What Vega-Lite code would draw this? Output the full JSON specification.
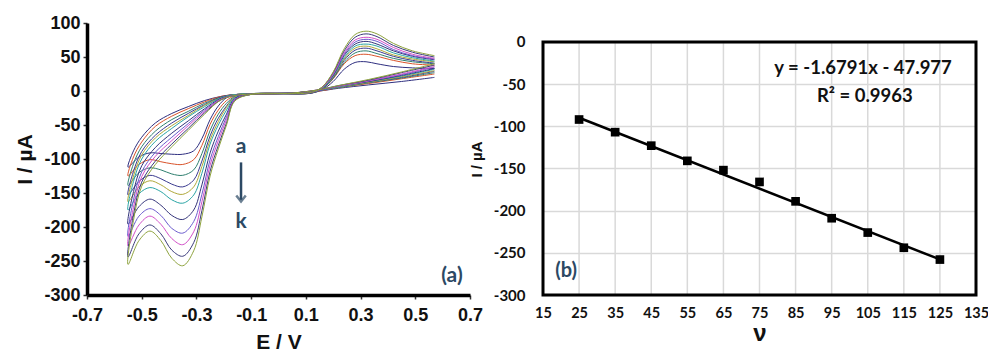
{
"$schema": "https://vega.github.io/schema/vega-lite/v6.json",
"padding": {"left": 14, "top": 14, "right": 0, "bottom": 0},
"config": {"font": "Liberation Sans", "concat": {"spacing": 73}, "axis": {"labelOverlap": false, "labelSeparation": 0, "labelBound": false}},
"bounds": "flush",
"hconcat": [
{
"width": 383, "height": 272,
"view": {"stroke": null},
"layer": [
{
"data": {"values": [
{"c":"a","o":1,"E":0.57,"I":20},{"c":"a","o":2,"E":0.45,"I":14},{"c":"a","o":3,"E":0.33,"I":9},{"c":"a","o":4,"E":0.22,"I":4},{"c":"a","o":5,"E":0.15,"I":0},{"c":"a","o":6,"E":0.05,"I":-3},{"c":"a","o":7,"E":-0.1,"I":-4},
{"c":"a","o":8,"E":-0.16,"I":-6},{"c":"a","o":9,"E":-0.19,"I":-10},{"c":"a","o":10,"E":-0.22,"I":-22},{"c":"a","o":11,"E":-0.25,"I":-42},{"c":"a","o":12,"E":-0.28,"I":-70},{"c":"a","o":13,"E":-0.31,"I":-88},{"c":"a","o":14,"E":-0.35,"I":-93},{"c":"a","o":15,"E":-0.39,"I":-93},{"c":"a","o":16,"E":-0.43,"I":-92},{"c":"a","o":17,"E":-0.47,"I":-91},{"c":"a","o":18,"E":-0.51,"I":-97},{"c":"a","o":19,"E":-0.55,"I":-112},
{"c":"a","o":20,"E":-0.53,"I":-88},{"c":"a","o":21,"E":-0.5,"I":-68},{"c":"a","o":22,"E":-0.45,"I":-47},{"c":"a","o":23,"E":-0.39,"I":-33},{"c":"a","o":24,"E":-0.33,"I":-23},{"c":"a","o":25,"E":-0.27,"I":-14},{"c":"a","o":26,"E":-0.21,"I":-8},{"c":"a","o":27,"E":-0.15,"I":-5},{"c":"a","o":28,"E":0,"I":-4},
{"c":"a","o":29,"E":0.12,"I":-3},{"c":"a","o":30,"E":0.16,"I":2},{"c":"a","o":31,"E":0.2,"I":14},{"c":"a","o":32,"E":0.24,"I":32},{"c":"a","o":33,"E":0.28,"I":42},{"c":"a","o":34,"E":0.32,"I":43},{"c":"a","o":35,"E":0.36,"I":40},{"c":"a","o":36,"E":0.42,"I":36},{"c":"a","o":37,"E":0.49,"I":34},{"c":"a","o":38,"E":0.57,"I":33},

{"c":"b","o":1,"E":0.57,"I":25},{"c":"b","o":2,"E":0.45,"I":18},{"c":"b","o":3,"E":0.33,"I":11},{"c":"b","o":4,"E":0.22,"I":5},{"c":"b","o":5,"E":0.15,"I":0},{"c":"b","o":6,"E":0.05,"I":-3},{"c":"b","o":7,"E":-0.1,"I":-4},
{"c":"b","o":8,"E":-0.16,"I":-7},{"c":"b","o":9,"E":-0.19,"I":-14},{"c":"b","o":10,"E":-0.22,"I":-28},{"c":"b","o":11,"E":-0.25,"I":-49},{"c":"b","o":12,"E":-0.28,"I":-80},{"c":"b","o":13,"E":-0.31,"I":-101},{"c":"b","o":14,"E":-0.35,"I":-108},{"c":"b","o":15,"E":-0.39,"I":-107},{"c":"b","o":16,"E":-0.43,"I":-104},{"c":"b","o":17,"E":-0.47,"I":-101},{"c":"b","o":18,"E":-0.51,"I":-108},{"c":"b","o":19,"E":-0.55,"I":-125},
{"c":"b","o":20,"E":-0.53,"I":-97},{"c":"b","o":21,"E":-0.5,"I":-75},{"c":"b","o":22,"E":-0.45,"I":-52},{"c":"b","o":23,"E":-0.39,"I":-37},{"c":"b","o":24,"E":-0.33,"I":-26},{"c":"b","o":25,"E":-0.27,"I":-16},{"c":"b","o":26,"E":-0.21,"I":-8},{"c":"b","o":27,"E":-0.15,"I":-5},{"c":"b","o":28,"E":0,"I":-4},
{"c":"b","o":29,"E":0.12,"I":-3},{"c":"b","o":30,"E":0.16,"I":3},{"c":"b","o":31,"E":0.2,"I":18},{"c":"b","o":32,"E":0.24,"I":40},{"c":"b","o":33,"E":0.28,"I":52},{"c":"b","o":34,"E":0.32,"I":54},{"c":"b","o":35,"E":0.36,"I":51},{"c":"b","o":36,"E":0.42,"I":45},{"c":"b","o":37,"E":0.49,"I":40},{"c":"b","o":38,"E":0.57,"I":38},

{"c":"c","o":1,"E":0.57,"I":27},{"c":"c","o":2,"E":0.45,"I":19},{"c":"c","o":3,"E":0.33,"I":12},{"c":"c","o":4,"E":0.22,"I":5},{"c":"c","o":5,"E":0.15,"I":1},{"c":"c","o":6,"E":0.05,"I":-3},{"c":"c","o":7,"E":-0.1,"I":-4},
{"c":"c","o":8,"E":-0.16,"I":-8},{"c":"c","o":9,"E":-0.19,"I":-18},{"c":"c","o":10,"E":-0.22,"I":-34},{"c":"c","o":11,"E":-0.25,"I":-58},{"c":"c","o":12,"E":-0.28,"I":-92},{"c":"c","o":13,"E":-0.31,"I":-116},{"c":"c","o":14,"E":-0.35,"I":-124},{"c":"c","o":15,"E":-0.39,"I":-122},{"c":"c","o":16,"E":-0.43,"I":-116},{"c":"c","o":17,"E":-0.47,"I":-113},{"c":"c","o":18,"E":-0.51,"I":-120},{"c":"c","o":19,"E":-0.55,"I":-139},
{"c":"c","o":20,"E":-0.53,"I":-107},{"c":"c","o":21,"E":-0.5,"I":-82},{"c":"c","o":22,"E":-0.45,"I":-59},{"c":"c","o":23,"E":-0.39,"I":-42},{"c":"c","o":24,"E":-0.33,"I":-30},{"c":"c","o":25,"E":-0.27,"I":-18},{"c":"c","o":26,"E":-0.21,"I":-9},{"c":"c","o":27,"E":-0.15,"I":-5},{"c":"c","o":28,"E":0,"I":-4},
{"c":"c","o":29,"E":0.12,"I":-3},{"c":"c","o":30,"E":0.16,"I":3},{"c":"c","o":31,"E":0.2,"I":19},{"c":"c","o":32,"E":0.24,"I":42},{"c":"c","o":33,"E":0.28,"I":56},{"c":"c","o":34,"E":0.32,"I":59},{"c":"c","o":35,"E":0.36,"I":55},{"c":"c","o":36,"E":0.42,"I":48},{"c":"c","o":37,"E":0.49,"I":43},{"c":"c","o":38,"E":0.57,"I":40},

{"c":"d","o":1,"E":0.57,"I":29},{"c":"d","o":2,"E":0.45,"I":20},{"c":"d","o":3,"E":0.33,"I":13},{"c":"d","o":4,"E":0.22,"I":6},{"c":"d","o":5,"E":0.15,"I":1},{"c":"d","o":6,"E":0.05,"I":-3},{"c":"d","o":7,"E":-0.1,"I":-4},
{"c":"d","o":8,"E":-0.16,"I":-9},{"c":"d","o":9,"E":-0.19,"I":-22},{"c":"d","o":10,"E":-0.22,"I":-40},{"c":"d","o":11,"E":-0.25,"I":-66},{"c":"d","o":12,"E":-0.28,"I":-103},{"c":"d","o":13,"E":-0.31,"I":-131},{"c":"d","o":14,"E":-0.35,"I":-141},{"c":"d","o":15,"E":-0.39,"I":-137},{"c":"d","o":16,"E":-0.43,"I":-129},{"c":"d","o":17,"E":-0.47,"I":-124},{"c":"d","o":18,"E":-0.51,"I":-133},{"c":"d","o":19,"E":-0.55,"I":-153},
{"c":"d","o":20,"E":-0.53,"I":-118},{"c":"d","o":21,"E":-0.5,"I":-89},{"c":"d","o":22,"E":-0.45,"I":-65},{"c":"d","o":23,"E":-0.39,"I":-47},{"c":"d","o":24,"E":-0.33,"I":-33},{"c":"d","o":25,"E":-0.27,"I":-20},{"c":"d","o":26,"E":-0.21,"I":-9},{"c":"d","o":27,"E":-0.15,"I":-5},{"c":"d","o":28,"E":0,"I":-4},
{"c":"d","o":29,"E":0.12,"I":-3},{"c":"d","o":30,"E":0.16,"I":4},{"c":"d","o":31,"E":0.2,"I":20},{"c":"d","o":32,"E":0.24,"I":45},{"c":"d","o":33,"E":0.28,"I":60},{"c":"d","o":34,"E":0.32,"I":63},{"c":"d","o":35,"E":0.36,"I":59},{"c":"d","o":36,"E":0.42,"I":51},{"c":"d","o":37,"E":0.49,"I":45},{"c":"d","o":38,"E":0.57,"I":41},

{"c":"e","o":1,"E":0.57,"I":30},{"c":"e","o":2,"E":0.45,"I":21},{"c":"e","o":3,"E":0.33,"I":13},{"c":"e","o":4,"E":0.22,"I":6},{"c":"e","o":5,"E":0.15,"I":1},{"c":"e","o":6,"E":0.05,"I":-3},{"c":"e","o":7,"E":-0.1,"I":-5},
{"c":"e","o":8,"E":-0.16,"I":-9},{"c":"e","o":9,"E":-0.19,"I":-24},{"c":"e","o":10,"E":-0.22,"I":-45},{"c":"e","o":11,"E":-0.25,"I":-72},{"c":"e","o":12,"E":-0.28,"I":-111},{"c":"e","o":13,"E":-0.31,"I":-141},{"c":"e","o":14,"E":-0.35,"I":-152},{"c":"e","o":15,"E":-0.39,"I":-148},{"c":"e","o":16,"E":-0.43,"I":-138},{"c":"e","o":17,"E":-0.47,"I":-132},{"c":"e","o":18,"E":-0.51,"I":-141},{"c":"e","o":19,"E":-0.55,"I":-163},
{"c":"e","o":20,"E":-0.53,"I":-125},{"c":"e","o":21,"E":-0.5,"I":-94},{"c":"e","o":22,"E":-0.45,"I":-69},{"c":"e","o":23,"E":-0.39,"I":-51},{"c":"e","o":24,"E":-0.33,"I":-36},{"c":"e","o":25,"E":-0.27,"I":-21},{"c":"e","o":26,"E":-0.21,"I":-10},{"c":"e","o":27,"E":-0.15,"I":-5},{"c":"e","o":28,"E":0,"I":-4},
{"c":"e","o":29,"E":0.12,"I":-2},{"c":"e","o":30,"E":0.16,"I":4},{"c":"e","o":31,"E":0.2,"I":21},{"c":"e","o":32,"E":0.24,"I":47},{"c":"e","o":33,"E":0.28,"I":63},{"c":"e","o":34,"E":0.32,"I":66},{"c":"e","o":35,"E":0.36,"I":62},{"c":"e","o":36,"E":0.42,"I":53},{"c":"e","o":37,"E":0.49,"I":47},{"c":"e","o":38,"E":0.57,"I":43},

{"c":"f","o":1,"E":0.57,"I":32},{"c":"f","o":2,"E":0.45,"I":22},{"c":"f","o":3,"E":0.33,"I":14},{"c":"f","o":4,"E":0.22,"I":6},{"c":"f","o":5,"E":0.15,"I":1},{"c":"f","o":6,"E":0.05,"I":-3},{"c":"f","o":7,"E":-0.1,"I":-5},
{"c":"f","o":8,"E":-0.16,"I":-10},{"c":"f","o":9,"E":-0.19,"I":-28},{"c":"f","o":10,"E":-0.22,"I":-50},{"c":"f","o":11,"E":-0.25,"I":-78},{"c":"f","o":12,"E":-0.28,"I":-121},{"c":"f","o":13,"E":-0.31,"I":-153},{"c":"f","o":14,"E":-0.35,"I":-165},{"c":"f","o":15,"E":-0.39,"I":-160},{"c":"f","o":16,"E":-0.43,"I":-148},{"c":"f","o":17,"E":-0.47,"I":-142},{"c":"f","o":18,"E":-0.51,"I":-151},{"c":"f","o":19,"E":-0.55,"I":-175},
{"c":"f","o":20,"E":-0.53,"I":-133},{"c":"f","o":21,"E":-0.5,"I":-100},{"c":"f","o":22,"E":-0.45,"I":-74},{"c":"f","o":23,"E":-0.39,"I":-55},{"c":"f","o":24,"E":-0.33,"I":-38},{"c":"f","o":25,"E":-0.27,"I":-23},{"c":"f","o":26,"E":-0.21,"I":-10},{"c":"f","o":27,"E":-0.15,"I":-5},{"c":"f","o":28,"E":0,"I":-4},
{"c":"f","o":29,"E":0.12,"I":-2},{"c":"f","o":30,"E":0.16,"I":4},{"c":"f","o":31,"E":0.2,"I":22},{"c":"f","o":32,"E":0.24,"I":49},{"c":"f","o":33,"E":0.28,"I":66},{"c":"f","o":34,"E":0.32,"I":69},{"c":"f","o":35,"E":0.36,"I":66},{"c":"f","o":36,"E":0.42,"I":56},{"c":"f","o":37,"E":0.49,"I":49},{"c":"f","o":38,"E":0.57,"I":44},

{"c":"g","o":1,"E":0.57,"I":33},{"c":"g","o":2,"E":0.45,"I":23},{"c":"g","o":3,"E":0.33,"I":14},{"c":"g","o":4,"E":0.22,"I":7},{"c":"g","o":5,"E":0.15,"I":1},{"c":"g","o":6,"E":0.05,"I":-3},{"c":"g","o":7,"E":-0.1,"I":-5},
{"c":"g","o":8,"E":-0.16,"I":-11},{"c":"g","o":9,"E":-0.19,"I":-34},{"c":"g","o":10,"E":-0.22,"I":-59},{"c":"g","o":11,"E":-0.25,"I":-91},{"c":"g","o":12,"E":-0.28,"I":-138},{"c":"g","o":13,"E":-0.31,"I":-175},{"c":"g","o":14,"E":-0.35,"I":-189},{"c":"g","o":15,"E":-0.39,"I":-183},{"c":"g","o":16,"E":-0.43,"I":-168},{"c":"g","o":17,"E":-0.47,"I":-159},{"c":"g","o":18,"E":-0.51,"I":-170},{"c":"g","o":19,"E":-0.55,"I":-196},
{"c":"g","o":20,"E":-0.53,"I":-148},{"c":"g","o":21,"E":-0.5,"I":-110},{"c":"g","o":22,"E":-0.45,"I":-83},{"c":"g","o":23,"E":-0.39,"I":-62},{"c":"g","o":24,"E":-0.33,"I":-44},{"c":"g","o":25,"E":-0.27,"I":-26},{"c":"g","o":26,"E":-0.21,"I":-11},{"c":"g","o":27,"E":-0.15,"I":-6},{"c":"g","o":28,"E":0,"I":-4},
{"c":"g","o":29,"E":0.12,"I":-2},{"c":"g","o":30,"E":0.16,"I":5},{"c":"g","o":31,"E":0.2,"I":23},{"c":"g","o":32,"E":0.24,"I":52},{"c":"g","o":33,"E":0.28,"I":69},{"c":"g","o":34,"E":0.32,"I":73},{"c":"g","o":35,"E":0.36,"I":69},{"c":"g","o":36,"E":0.42,"I":59},{"c":"g","o":37,"E":0.49,"I":51},{"c":"g","o":38,"E":0.57,"I":46},

{"c":"h","o":1,"E":0.57,"I":35},{"c":"h","o":2,"E":0.45,"I":24},{"c":"h","o":3,"E":0.33,"I":15},{"c":"h","o":4,"E":0.22,"I":7},{"c":"h","o":5,"E":0.15,"I":1},{"c":"h","o":6,"E":0.05,"I":-3},{"c":"h","o":7,"E":-0.1,"I":-5},
{"c":"h","o":8,"E":-0.16,"I":-12},{"c":"h","o":9,"E":-0.19,"I":-38},{"c":"h","o":10,"E":-0.22,"I":-67},{"c":"h","o":11,"E":-0.25,"I":-101},{"c":"h","o":12,"E":-0.28,"I":-152},{"c":"h","o":13,"E":-0.31,"I":-192},{"c":"h","o":14,"E":-0.35,"I":-209},{"c":"h","o":15,"E":-0.39,"I":-202},{"c":"h","o":16,"E":-0.43,"I":-183},{"c":"h","o":17,"E":-0.47,"I":-173},{"c":"h","o":18,"E":-0.51,"I":-184},{"c":"h","o":19,"E":-0.55,"I":-214},
{"c":"h","o":20,"E":-0.53,"I":-160},{"c":"h","o":21,"E":-0.5,"I":-119},{"c":"h","o":22,"E":-0.45,"I":-90},{"c":"h","o":23,"E":-0.39,"I":-68},{"c":"h","o":24,"E":-0.33,"I":-48},{"c":"h","o":25,"E":-0.27,"I":-28},{"c":"h","o":26,"E":-0.21,"I":-12},{"c":"h","o":27,"E":-0.15,"I":-6},{"c":"h","o":28,"E":0,"I":-4},
{"c":"h","o":29,"E":0.12,"I":-2},{"c":"h","o":30,"E":0.16,"I":5},{"c":"h","o":31,"E":0.2,"I":24},{"c":"h","o":32,"E":0.24,"I":54},{"c":"h","o":33,"E":0.28,"I":72},{"c":"h","o":34,"E":0.32,"I":76},{"c":"h","o":35,"E":0.36,"I":73},{"c":"h","o":36,"E":0.42,"I":61},{"c":"h","o":37,"E":0.49,"I":52},{"c":"h","o":38,"E":0.57,"I":47},

{"c":"i","o":1,"E":0.57,"I":36},{"c":"i","o":2,"E":0.45,"I":25},{"c":"i","o":3,"E":0.33,"I":15},{"c":"i","o":4,"E":0.22,"I":7},{"c":"i","o":5,"E":0.15,"I":2},{"c":"i","o":6,"E":0.05,"I":-3},{"c":"i","o":7,"E":-0.1,"I":-5},
{"c":"i","o":8,"E":-0.16,"I":-13},{"c":"i","o":9,"E":-0.19,"I":-42},{"c":"i","o":10,"E":-0.22,"I":-73},{"c":"i","o":11,"E":-0.25,"I":-109},{"c":"i","o":12,"E":-0.28,"I":-163},{"c":"i","o":13,"E":-0.31,"I":-207},{"c":"i","o":14,"E":-0.35,"I":-226},{"c":"i","o":15,"E":-0.39,"I":-217},{"c":"i","o":16,"E":-0.43,"I":-196},{"c":"i","o":17,"E":-0.47,"I":-184},{"c":"i","o":18,"E":-0.51,"I":-197},{"c":"i","o":19,"E":-0.55,"I":-228},
{"c":"i","o":20,"E":-0.53,"I":-171},{"c":"i","o":21,"E":-0.5,"I":-126},{"c":"i","o":22,"E":-0.45,"I":-96},{"c":"i","o":23,"E":-0.39,"I":-73},{"c":"i","o":24,"E":-0.33,"I":-51},{"c":"i","o":25,"E":-0.27,"I":-30},{"c":"i","o":26,"E":-0.21,"I":-12},{"c":"i","o":27,"E":-0.15,"I":-6},{"c":"i","o":28,"E":0,"I":-4},
{"c":"i","o":29,"E":0.12,"I":-2},{"c":"i","o":30,"E":0.16,"I":5},{"c":"i","o":31,"E":0.2,"I":25},{"c":"i","o":32,"E":0.24,"I":56},{"c":"i","o":33,"E":0.28,"I":75},{"c":"i","o":34,"E":0.32,"I":79},{"c":"i","o":35,"E":0.36,"I":76},{"c":"i","o":36,"E":0.42,"I":64},{"c":"i","o":37,"E":0.49,"I":54},{"c":"i","o":38,"E":0.57,"I":48},

{"c":"j","o":1,"E":0.57,"I":38},{"c":"j","o":2,"E":0.45,"I":27},{"c":"j","o":3,"E":0.33,"I":16},{"c":"j","o":4,"E":0.22,"I":8},{"c":"j","o":5,"E":0.15,"I":2},{"c":"j","o":6,"E":0.05,"I":-3},{"c":"j","o":7,"E":-0.1,"I":-5},
{"c":"j","o":8,"E":-0.16,"I":-14},{"c":"j","o":9,"E":-0.19,"I":-47},{"c":"j","o":10,"E":-0.22,"I":-80},{"c":"j","o":11,"E":-0.25,"I":-118},{"c":"j","o":12,"E":-0.28,"I":-176},{"c":"j","o":13,"E":-0.31,"I":-223},{"c":"j","o":14,"E":-0.35,"I":-243},{"c":"j","o":15,"E":-0.39,"I":-234},{"c":"j","o":16,"E":-0.43,"I":-210},{"c":"j","o":17,"E":-0.47,"I":-197},{"c":"j","o":18,"E":-0.51,"I":-210},{"c":"j","o":19,"E":-0.55,"I":-244},
{"c":"j","o":20,"E":-0.53,"I":-182},{"c":"j","o":21,"E":-0.5,"I":-134},{"c":"j","o":22,"E":-0.45,"I":-103},{"c":"j","o":23,"E":-0.39,"I":-78},{"c":"j","o":24,"E":-0.33,"I":-55},{"c":"j","o":25,"E":-0.27,"I":-32},{"c":"j","o":26,"E":-0.21,"I":-13},{"c":"j","o":27,"E":-0.15,"I":-6},{"c":"j","o":28,"E":0,"I":-4},
{"c":"j","o":29,"E":0.12,"I":-2},{"c":"j","o":30,"E":0.16,"I":6},{"c":"j","o":31,"E":0.2,"I":27},{"c":"j","o":32,"E":0.24,"I":59},{"c":"j","o":33,"E":0.28,"I":79},{"c":"j","o":34,"E":0.32,"I":84},{"c":"j","o":35,"E":0.36,"I":80},{"c":"j","o":36,"E":0.42,"I":67},{"c":"j","o":37,"E":0.49,"I":57},{"c":"j","o":38,"E":0.57,"I":50},

{"c":"k","o":1,"E":0.57,"I":40},{"c":"k","o":2,"E":0.45,"I":28},{"c":"k","o":3,"E":0.33,"I":17},{"c":"k","o":4,"E":0.22,"I":8},{"c":"k","o":5,"E":0.15,"I":2},{"c":"k","o":6,"E":0.05,"I":-3},{"c":"k","o":7,"E":-0.1,"I":-5},
{"c":"k","o":8,"E":-0.16,"I":-15},{"c":"k","o":9,"E":-0.19,"I":-50},{"c":"k","o":10,"E":-0.22,"I":-85},{"c":"k","o":11,"E":-0.25,"I":-125},{"c":"k","o":12,"E":-0.28,"I":-185},{"c":"k","o":13,"E":-0.31,"I":-235},{"c":"k","o":14,"E":-0.35,"I":-257},{"c":"k","o":15,"E":-0.39,"I":-246},{"c":"k","o":16,"E":-0.43,"I":-220},{"c":"k","o":17,"E":-0.47,"I":-206},{"c":"k","o":18,"E":-0.51,"I":-220},{"c":"k","o":19,"E":-0.55,"I":-255},
{"c":"k","o":20,"E":-0.53,"I":-190},{"c":"k","o":21,"E":-0.5,"I":-140},{"c":"k","o":22,"E":-0.45,"I":-108},{"c":"k","o":23,"E":-0.39,"I":-82},{"c":"k","o":24,"E":-0.33,"I":-58},{"c":"k","o":25,"E":-0.27,"I":-34},{"c":"k","o":26,"E":-0.21,"I":-13},{"c":"k","o":27,"E":-0.15,"I":-6},{"c":"k","o":28,"E":0,"I":-4},
{"c":"k","o":29,"E":0.12,"I":-2},{"c":"k","o":30,"E":0.16,"I":6},{"c":"k","o":31,"E":0.2,"I":28},{"c":"k","o":32,"E":0.24,"I":62},{"c":"k","o":33,"E":0.28,"I":83},{"c":"k","o":34,"E":0.32,"I":88},{"c":"k","o":35,"E":0.36,"I":84},{"c":"k","o":36,"E":0.42,"I":70},{"c":"k","o":37,"E":0.49,"I":59},{"c":"k","o":38,"E":0.57,"I":52}
]},
"mark": {"type": "line", "strokeWidth": 1, "interpolate": "catmull-rom", "clip": false},
"encoding": {
"x": {"field": "E", "type": "quantitative", "scale": {"domain": [-0.7, 0.7], "nice": false, "zero": false},
 "axis": {"values": [-0.7, -0.5, -0.3, -0.1, 0.1, 0.3, 0.5, 0.7], "tickCount": 30, "labelExpr": "'' + datum.value", "labelOverlap": false, "title": "E / V", "titleFontSize": 21, "titleFontWeight": "bold", "titleColor": "#111", "titlePadding": 7,
  "labelFontSize": 18, "labelFontWeight": "bold", "labelColor": "#111", "labelPadding": 7, "grid": false, "domainColor": "black", "domainWidth": 3.5, "tickColor": "#333", "tickSize": 4, "tickWidth": 1.5, "labelFlush": false}},
"y": {"field": "I", "type": "quantitative", "scale": {"domain": [-300, 100], "nice": false, "zero": false},
 "axis": {"values": [-300, -250, -200, -150, -100, -50, 0, 50, 100], "tickCount": 30, "labelExpr": "'' + datum.value", "labelOverlap": false, "title": "I / µA", "titleFontSize": 21, "titleFontWeight": "bold", "titleColor": "#111", "titlePadding": 8,
  "labelFontSize": 18, "labelFontWeight": "bold", "labelColor": "#111", "labelPadding": 3, "grid": false, "domainColor": "black", "domainWidth": 3.5, "tickColor": "#333", "tickSize": 4, "tickWidth": 1.5, "labelFlush": false}},
"color": {"field": "c", "type": "nominal", "legend": null,
 "scale": {"domain": ["a","b","c","d","e","f","g","h","i","j","k"], "range": ["#2f2f80","#d9532b","#2f7f6f","#3b3b8f","#b0a83a","#2aa5a5","#34347a","#6a5acd","#d24fc8","#3a3a7a","#8ea33e"]}},
"order": {"field": "o", "type": "quantitative"}
}
},
{
"data": {"values": [{"E": -0.137, "I": -105, "I2": -160}]},
"mark": {"type": "rule", "color": "#2c4964", "strokeWidth": 2.5},
"encoding": {"x": {"field": "E", "type": "quantitative"}, "y": {"field": "I", "type": "quantitative"}, "y2": {"field": "I2"}}
},
{
"data": {"values": [{"E": -0.137, "I": -160}]},
"mark": {"type": "point", "shape": "M -1 -0.9 L 0 0.35 L 1 -0.9", "filled": false, "color": "#2c4964", "strokeWidth": 2.5, "size": 90},
"encoding": {"x": {"field": "E", "type": "quantitative"}, "y": {"field": "I", "type": "quantitative"}}
},
{
"data": {"values": [{"E": -0.137, "I": -83, "t": "a"}, {"E": -0.137, "I": -192, "t": "k"}, {"E": 0.634, "I": -272, "t": "(a)"}]},
"mark": {"type": "text", "font": "Lato", "fontWeight": "bold", "fontSize": 21, "color": "#2c4964", "align": "center", "baseline": "middle"},
"encoding": {"x": {"field": "E", "type": "quantitative"}, "y": {"field": "I", "type": "quantitative"}, "text": {"field": "t"}}
}
]
},
{
"width": 433, "height": 272,
"view": {"stroke": null},
"layer": [
{
"data": {"values": [{"v":15},{"v":25},{"v":35},{"v":45},{"v":55},{"v":65},{"v":75},{"v":85},{"v":95},{"v":105},{"v":115},{"v":125},{"v":135}]},
"mark": {"type": "rule", "color": "#d9d9d9", "strokeWidth": 1.5},
"encoding": {
"x": {"field": "v", "type": "quantitative", "scale": {"domain": [15, 135], "nice": false, "zero": false},
 "axis": {"values": [15, 25, 35, 45, 55, 65, 75, 85, 95, 105, 115, 125, 135], "tickCount": 30, "labelOverlap": false, "title": "ν", "titleFont": "Liberation Sans", "titleFontSize": 24, "titleFontWeight": "bold", "titleColor": "#111", "titlePadding": 2,
  "labelFont": "Lato", "labelFontSize": 14.5, "labelFontWeight": "bold", "labelColor": "#111", "labelPadding": 11, "ticks": false, "domain": false, "grid": false, "labelFlush": false}},
"y": {"datum": 0, "type": "quantitative", "scale": {"domain": [-300, 22.4], "nice": false, "zero": false},
 "axis": {"values": [-300, -250, -200, -150, -100, -50, 0], "tickCount": 30, "labelExpr": "'' + datum.value", "labelOverlap": false, "title": "I / µA", "titleFontSize": 15, "titleFontWeight": "bold", "titleColor": "#111", "titlePadding": 9,
  "labelFont": "Lato", "labelFontSize": 15, "labelFontWeight": "bold", "labelColor": "#111", "labelPadding": 18, "ticks": false, "domain": false, "grid": true, "gridColor": "#d9d9d9", "gridWidth": 1.5, "labelFlush": false}},
"y2": {"datum": -300}
}
},
{
"data": {"values": [{}]},
"mark": {"type": "rect", "fillOpacity": 0, "stroke": "black", "strokeWidth": 3},
"encoding": {"x": {"datum": 15, "type": "quantitative"}, "x2": {"datum": 135}, "y": {"datum": 0, "type": "quantitative"}, "y2": {"datum": -300}}
},
{
"data": {"values": [{"v": 25, "I": -89.95}, {"v": 125, "I": -257.87}]},
"mark": {"type": "line", "color": "black", "strokeWidth": 2.5},
"encoding": {"x": {"field": "v", "type": "quantitative"}, "y": {"field": "I", "type": "quantitative"}}
},
{
"data": {"values": [{"v":25,"I":-92},{"v":35,"I":-107},{"v":45,"I":-123},{"v":55,"I":-141},{"v":65,"I":-152},{"v":75,"I":-166},{"v":85,"I":-189},{"v":95,"I":-209},{"v":105,"I":-226},{"v":115,"I":-244},{"v":125,"I":-258}]},
"mark": {"type": "square", "color": "black", "filled": true, "opacity": 1, "size": 75},
"encoding": {"x": {"field": "v", "type": "quantitative"}, "y": {"field": "I", "type": "quantitative"}}
},
{
"data": {"values": [{"v": 103.7, "I": -30.7, "t": "y = -1.6791x - 47.977"}, {"v": 104.2, "I": -63.7, "t": "R² = 0.9963"}]},
"mark": {"type": "text", "font": "Lato", "fontWeight": "bold", "fontSize": 18.5, "color": "#111", "align": "center", "baseline": "middle"},
"encoding": {"x": {"field": "v", "type": "quantitative"}, "y": {"field": "I", "type": "quantitative"}, "text": {"field": "t"}}
},
{
"data": {"values": [{"v": 21.4, "I": -271, "t": "(b)"}]},
"mark": {"type": "text", "font": "Lato", "fontWeight": "bold", "fontSize": 20, "color": "#2c4964", "align": "center", "baseline": "middle"},
"encoding": {"x": {"field": "v", "type": "quantitative"}, "y": {"field": "I", "type": "quantitative"}, "text": {"field": "t"}}
}
]
}
]
}
